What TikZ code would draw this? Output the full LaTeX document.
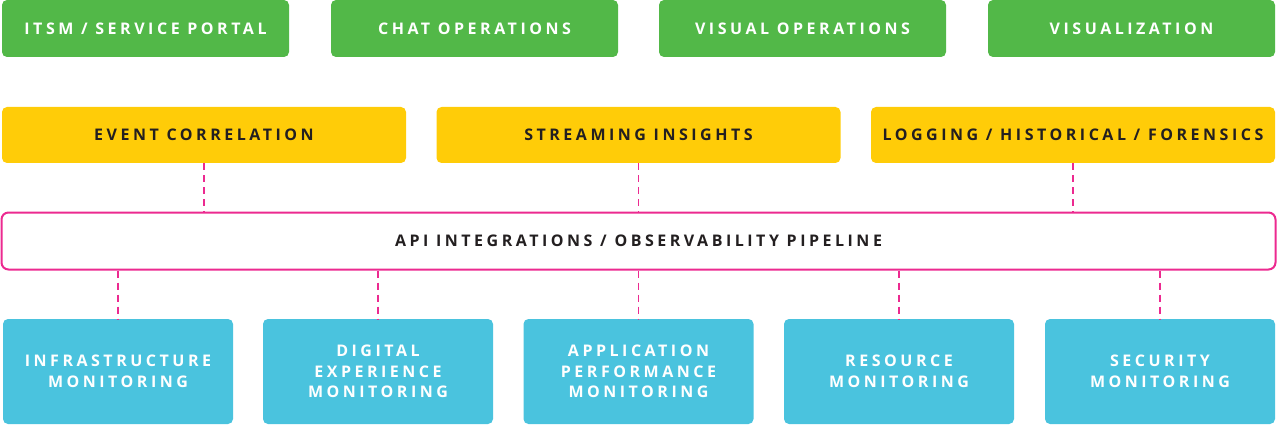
\documentclass[tikz,border=0pt]{standalone}
\usepackage{fontspec}
\setmainfont{Open Sans}[LetterSpace=22]
\usetikzlibrary{positioning}
\definecolor{cgreen}{HTML}{52B848}
\definecolor{cyellow}{HTML}{FFCC08}
\definecolor{cpink}{HTML}{EC2A90}
\definecolor{cblue}{HTML}{4AC3DE}
\definecolor{ctext}{HTML}{231F20}
\tikzset{
  box/.style={rounded corners=5pt, inner sep=0pt, align=center, font=\fontsize{16}{20.5}\selectfont\bfseries},
  greenbox/.style={box, fill=cgreen, text=white, minimum width=287pt, minimum height=57pt},
  yellowbox/.style={box, fill=cyellow, text=ctext, minimum width=404pt, minimum height=56pt},
  bluebox/.style={box, fill=cblue, text=white, minimum width=230pt, minimum height=105pt},
  pipe/.style={box, draw=cpink, line width=2pt, fill=white, text=ctext, rounded corners=7pt, minimum width=1274pt, minimum height=57pt},
  link/.style={draw=cpink, line width=1.8pt, dash pattern=on 7pt off 5pt},
}
\begin{document}
\begin{tikzpicture}[x=1pt,y=-1pt]
\useasboundingbox (0,0) rectangle (1280,425);
\node[greenbox] (g1) at (145.5,28.5) {ITSM / SERVICE PORTAL};
\node[greenbox] (g2) at (474.5,28.5) {CHAT OPERATIONS};
\node[greenbox] (g3) at (802.5,28.5) {VISUAL OPERATIONS};
\node[greenbox] (g4) at (1131.5,28.5) {VISUALIZATION};
\node[yellowbox] (y1) at (204,135) {EVENT CORRELATION};
\node[yellowbox] (y2) at (638.5,135) {STREAMING INSIGHTS};
\node[yellowbox] (y3) at (1073,135) {LOGGING / HISTORICAL / FORENSICS};
\node[pipe] (p) at (638.5,241) {API INTEGRATIONS / OBSERVABILITY PIPELINE};
\node[bluebox] (b1) at (118,371.5) {INFRASTRUCTURE\\MONITORING};
\node[bluebox] (b2) at (378,371.5) {DIGITAL\\EXPERIENCE\\MONITORING};
\node[bluebox] (b3) at (638.5,371.5) {APPLICATION\\PERFORMANCE\\MONITORING};
\node[bluebox] (b4) at (899,371.5) {RESOURCE\\MONITORING};
\node[bluebox] (b5) at (1160,371.5) {SECURITY\\MONITORING};
\foreach \n in {y1,y2,y3}{
  \draw[link] (\n.south) -- (\n.south |- p.north);
}
\foreach \n in {b1,b2,b3,b4,b5}{
  \draw[link] (\n.north |- p.south) -- (\n.north);
}
\end{tikzpicture}
\end{document}
